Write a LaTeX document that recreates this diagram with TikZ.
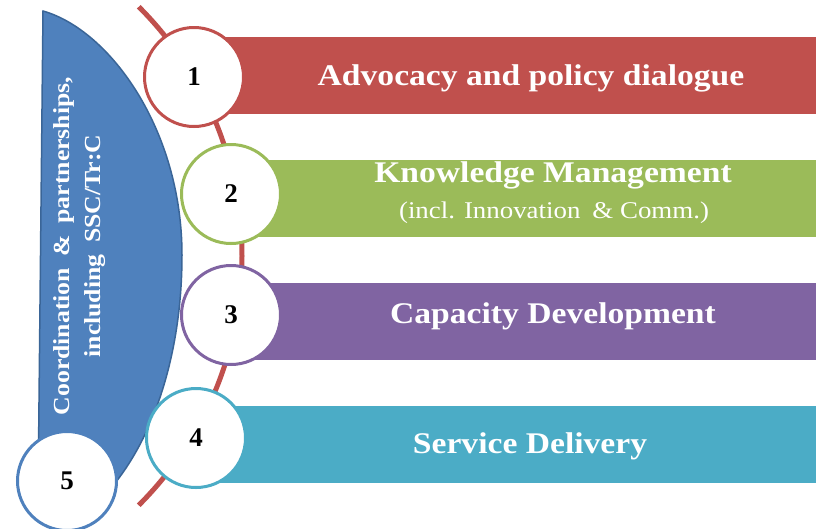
\documentclass[tikz,border=0pt]{standalone}
\usepackage{fontspec}
\setmainfont{Liberation Serif}
\newfontfamily\barfont[FakeStretch=1.12]{Liberation Serif}
\definecolor{redbar}{HTML}{C0504D}
\definecolor{greenbar}{HTML}{9BBB59}
\definecolor{purplebar}{HTML}{8064A2}
\definecolor{tealbar}{HTML}{4BACC6}
\definecolor{bluehalf}{HTML}{4F81BD}
\definecolor{blueline}{HTML}{3A6597}

\begin{document}
\begin{tikzpicture}[x=1pt,y=-1pt,
  numcircle/.style={circle, draw, line width=3pt, fill=white, minimum size=99pt, inner sep=0pt,
    font=\fontsize{27}{27}\selectfont\bfseries},
  barbox/.style={rectangle, anchor=west, minimum height=77pt, inner sep=0pt},
  bartitle/.style={anchor=base, text=white, font=\barfont\fontsize{30}{32}\selectfont\bfseries},
  spine/.style={draw=redbar, line width=5pt}]
\useasboundingbox (0,0) rectangle (821,528);

% red line behind the circles
\draw[spine] (-110.5,256) ++(-45:352.5) arc[start angle=-45, end angle=45, radius=352.5];

\filldraw[fill=bluehalf, draw=blueline, line width=1.5pt]
  (43,11) .. controls (110,30) and (182,130) .. (182,255)
  .. controls (182,360) and (150,450) .. (100,500) -- (38,500) -- cycle;

\node[rotate=90, text=white, align=center,
  font=\barfont\fontsize{23}{31}\selectfont\bfseries] (coord) at (80,246)
{Coordination\enspace\&\enspace partnerships,\\ including\enspace SSC/Tr:C};

\node[barbox, fill=redbar, minimum width=622pt] (bar1) at (194,75.5) {};
\node[barbox, fill=greenbar, minimum width=585pt] (bar2) at (231,198.5) {};
\node[barbox, fill=purplebar, minimum width=585pt] (bar3) at (231,321.5) {};
\node[barbox, fill=tealbar, minimum width=620pt] (bar4) at (196,444.5) {};

\node[bartitle] (title1) at (531,85) {Advocacy and policy dialogue};
\node[bartitle] (title2) at (553,182) {Knowledge Management};
\node[bartitle, font=\barfont\fontsize{24}{26}\selectfont] (sub2) at (554,218)
{(incl. Innovation\enspace\& Comm.)};
\node[bartitle] (title3) at (553,323) {Capacity Development};
\node[bartitle] (title4) at (530,453) {Service Delivery};

\node[numcircle, draw=redbar] (c1) at (194,77) {1};
\node[numcircle, draw=greenbar] (c2) at (231,194) {2};
\node[numcircle, draw=purplebar] (c3) at (231,315) {3};
\node[numcircle, draw=tealbar] (c4) at (196,438) {4};
\node[numcircle, draw=bluehalf] (c5) at (67,481) {5};
\end{tikzpicture}
\end{document}
